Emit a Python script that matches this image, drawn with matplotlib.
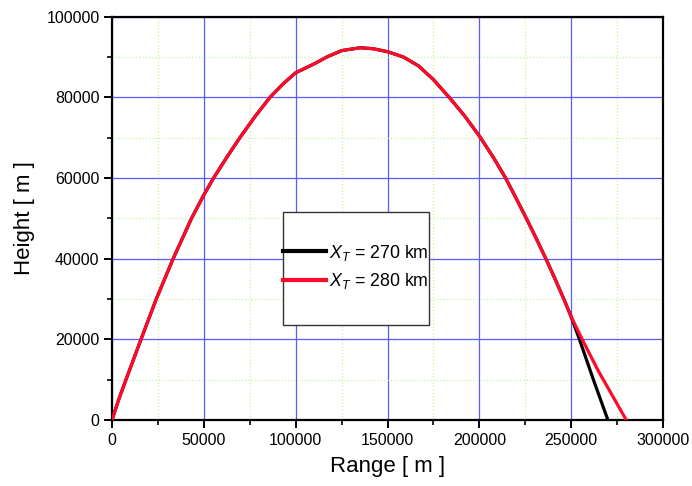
import matplotlib
matplotlib.use("Agg")
import matplotlib.pyplot as plt
from matplotlib.ticker import MultipleLocator
from matplotlib.patches import Rectangle

# Common trajectory
common_x = [0, 3600, 7600, 15800, 24100, 33300, 43300, 50000, 55300, 62300, 69600,
            77800, 86000, 93300, 100000, 110500, 116900, 125100, 135100, 142400,
            150200, 158700, 166900, 175000, 183600, 192000, 200200, 207800, 214300,
            220000, 225600, 231000, 236200, 241200, 246000, 250000]
common_y = [0, 5000, 10000, 20000, 30000, 40000, 50000, 55800, 60000, 65000, 70000,
            75200, 80000, 83400, 86100, 88400, 90000, 91600, 92300, 92050,
            91300, 90000, 87800, 84400, 80000, 75400, 70300, 65000, 60000,
            55000, 50000, 45000, 40000, 35000, 30000, 25600]

# Terminal branches
black_tail_x = [254500, 262100, 270000]
black_tail_y = [20000, 10000, 0]
red_tail_x = [256000, 264500, 280000]
red_tail_y = [20000, 12400, 0]

labels = [r"$X_T$ = 270 km", r"$X_T$ = 280 km"]
xticks = [0, 50000, 100000, 150000, 200000, 250000, 300000]
yticks = [0, 20000, 40000, 60000, 80000, 100000]

plt.rcParams['font.family'] = ['Liberation Sans', 'DejaVu Sans']
plt.rcParams['mathtext.fontset'] = 'custom'
plt.rcParams['mathtext.rm'] = 'Liberation Sans'
plt.rcParams['mathtext.it'] = 'Liberation Sans:italic'

fig = plt.figure(figsize=(6.92, 4.86), dpi=100)
ax = fig.add_axes([112/692, 66/486, 551/692, 403.3/486])

bx = common_x + black_tail_x
by = common_y + black_tail_y
rx = common_x + red_tail_x
ry = common_y + red_tail_y

lb, = ax.plot(bx, by, color='black', lw=2.3, label=labels[0], zorder=3,
              solid_joinstyle='round')
lr, = ax.plot(rx, ry, color='#ff0a2a', lw=2.3, label=labels[1], zorder=4,
              solid_joinstyle='round')

ax.set_xlim(0, 300000)
ax.set_ylim(0, 100000)
ax.set_xticks(xticks)
ax.set_yticks(yticks)
ax.set_xticklabels([str(v) for v in xticks])
ax.set_yticklabels([str(v) for v in yticks])
ax.xaxis.set_minor_locator(MultipleLocator(25000))
ax.yaxis.set_minor_locator(MultipleLocator(10000))

ax.grid(True, which='major', color='#5a5aff', lw=0.9, zorder=1)
ax.grid(True, which='minor', color='#c8f5a0', lw=0.9, ls=':', zorder=1)
ax.set_axisbelow(True)

for s in ax.spines.values():
    s.set_linewidth(1.6)
ax.tick_params(which='major', direction='out', length=6, width=1.4,
               labelsize=11.5, pad=3, top=False, right=False)
ax.tick_params(which='minor', direction='out', length=3.5, width=1.2,
               top=False, right=False)

ax.set_xlabel("Range [ m ]", fontsize=16, labelpad=6)
ax.set_ylabel("Height [ m ]", fontsize=16, labelpad=8)

# Legend box (Origin-style, handles flush with left edge)
rect = Rectangle((283, 486-325), 146, 113, transform=None, facecolor='white',
                 edgecolor='#333333', lw=1.0, zorder=6, clip_on=False)
ax.add_artist(rect)

leg = ax.legend(handles=[lb, lr], loc='center left',
                bbox_to_anchor=(283/692, (486-267)/486), bbox_transform=fig.transFigure,
                frameon=False, fontsize=12.8, handlelength=2.4, handletextpad=0.2,
                labelspacing=0.5, borderpad=0, borderaxespad=0)
leg.set_zorder(7)
for h in leg.legend_handles:
    h.set_linewidth(3)

fig.savefig("out.png", dpi=100)
